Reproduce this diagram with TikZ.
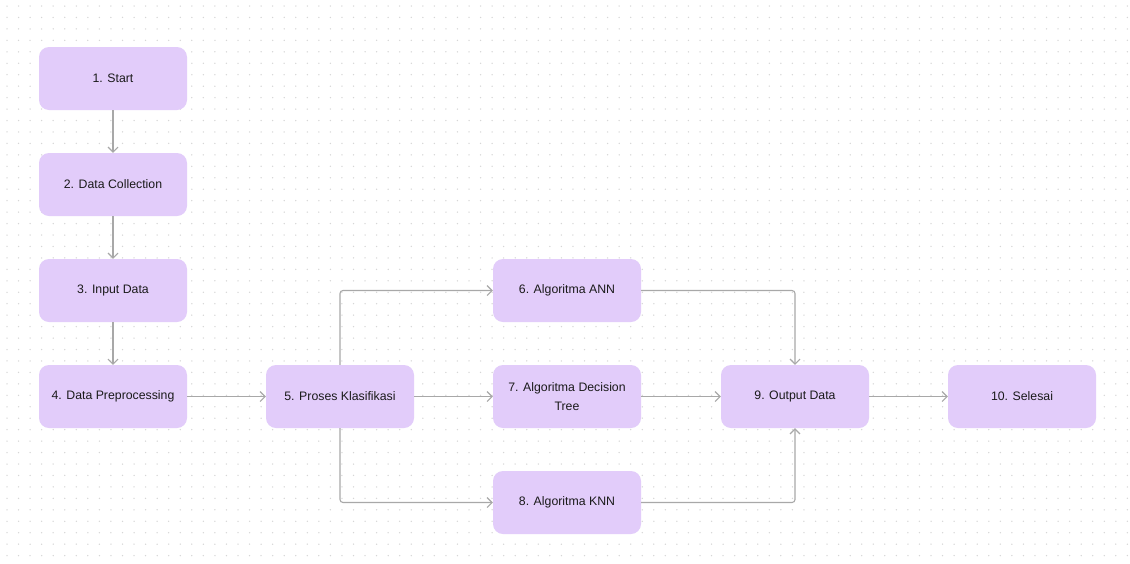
\documentclass[tikz,border=0pt]{standalone}
\usepackage{fontspec}
\setmainfont{Liberation Sans}
\usetikzlibrary{arrows.meta}
\definecolor{boxfill}{HTML}{E2CCFA}
\definecolor{linecol}{HTML}{A8A8A8}
\definecolor{dotcol}{HTML}{D6D6D6}
\definecolor{txtcol}{HTML}{1A1A1A}
\tikzset{
  stepbox/.style={fill=boxfill, rounded corners=10pt, minimum width=148pt, minimum height=63pt, inner sep=2pt, align=center, font=\fontsize{12.3}{19}\selectfont, text=txtcol},
  conn/.style={draw=linecol, line width=1.1pt, rounded corners=3pt, -{Straight Barb[length=5pt,width=10pt,line width=1.1pt]}}
}
\begin{document}
\begin{tikzpicture}[x=1pt,y=-1pt]
\fill[white] (0,0) rectangle (1130,563);
\useasboundingbox (0,0) rectangle (1130,563);
\foreach \i in {0,...,97}{
  \foreach \j in {0,...,48}{
    \fill[dotcol] (7+11.55*\i, 6+11.45*\j) circle (0.75pt);
  }
}
\node[stepbox] (n1) at (113,78.5) {1. Start};
\node[stepbox] (n2) at (113,184.5) {2. Data Collection};
\node[stepbox] (n3) at (113,290.5) {3. Input Data};
\node[stepbox] (n4) at (113,396.5) {4. Data Preprocessing};
\node[stepbox] (n5) at (340,396.5) {5. Proses Klasifikasi};
\node[stepbox] (n6) at (567,290.5) {6. Algoritma ANN};
\node[stepbox] (n7) at (567,396.5) {7. Algoritma Decision\\Tree};
\node[stepbox] (n8) at (567,502.5) {8. Algoritma KNN};
\node[stepbox] (n9) at (795,396.5) {9. Output Data};
\node[stepbox] (n10) at (1022,396.5) {10. Selesai};
\draw[conn] (n1) -- (n2);
\draw[conn] (n2) -- (n3);
\draw[conn] (n3) -- (n4);
\draw[conn] (n4) -- (n5);
\draw[conn] (n5.north) |- (n6.west);
\draw[conn] (n5) -- (n7);
\draw[conn] (n5.south) |- (n8.west);
\draw[conn] (n6.east) -| (n9.north);
\draw[conn] (n7) -- (n9);
\draw[conn] (n8.east) -| (n9.south);
\draw[conn] (n9) -- (n10);
\end{tikzpicture}
\end{document}
